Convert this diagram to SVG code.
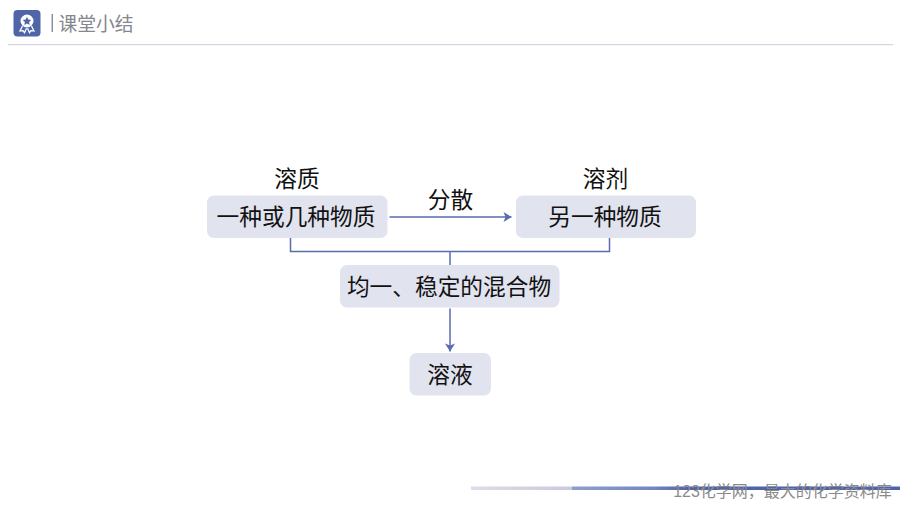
<svg xmlns="http://www.w3.org/2000/svg" width="900" height="506" viewBox="0 0 900 506">
<defs>
<style>
text{font-family:"Liberation Sans","Noto Sans CJK SC",sans-serif;font-size:22.700px;fill:#111;text-anchor:middle}
.box{fill:#e1e3ef}
.c{fill:none;stroke:#5a6cae;stroke-width:1.500}
</style>
<marker id="a" viewBox="0 0 10 10" refX="9" refY="5" markerWidth="10" markerHeight="10" markerUnits="userSpaceOnUse" orient="auto"><path d="M1 0L9 5L1 10L3 5Z" fill="#5a6cae"/></marker>
<linearGradient id="g1"><stop offset="0" stop-color="#dcdde7"/><stop offset="1" stop-color="#c9cbdb"/></linearGradient>
<linearGradient id="g2"><stop offset="0" stop-color="#8f9fcc"/><stop offset="0.25" stop-color="#7486c0"/><stop offset="0.35" stop-color="#5064a8"/><stop offset="1" stop-color="#4f62ab"/></linearGradient>
</defs>
<rect width="900" height="506" fill="#fff"/>
<g id="header">
<rect x="13.500" y="10" width="27" height="26.500" rx="4" fill="#5064a8"/>
<path d="M22.500 26l-2.500 5 3-.3 1.500 2 2-4.500 M31.500 26l2.500 5-3-.3-1.500 2-2-4.500" fill="none" stroke="#fff" stroke-width="1.300"/>
<circle cx="27" cy="21" r="6.500" fill="#fff"/>
<path d="M27 16.800l1.300 2.700 3 .4-2.200 2 .6 3-2.700-1.500-2.700 1.500.6-3-2.200-2 3-.4z" fill="#5064a8"/>
<rect x="51.500" y="14" width="1.500" height="18" fill="#8f9298"/>
<text x="96" y="30.500" style="font-size:18.800px;fill:#85878f">课堂小结</text>
<rect x="8" y="44" width="885" height="1.200" fill="#d3d4e0"/>
</g>
<g id="connectors">
<path class="c" d="M389.500 217H511.500" marker-end="url(#a)"/>
<path class="c" d="M290.500 238V251.500H609.500V238M450 251.500V265"/>
<path class="c" d="M450 308.500V351.500" marker-end="url(#a)"/>
</g>
<g id="solute-label"><text x="297" y="187">溶质</text></g>
<g id="solvent-label"><text x="605.500" y="187">溶剂</text></g>
<g id="disperse-label"><text x="450.500" y="208">分散</text></g>
<g id="solute"><rect class="box" x="207" y="195.500" width="180.500" height="42.500" rx="7"/><text x="296" y="225">一种或几种物质</text></g>
<g id="solvent"><rect class="box" x="516" y="195.500" width="180" height="42.500" rx="7"/><text x="605" y="225">另一种物质</text></g>
<g id="mixture"><rect class="box" x="340" y="265" width="219.500" height="42.500" rx="7"/><text x="449" y="294.500">均一、稳定的混合物</text></g>
<g id="solution"><rect class="box" x="409.500" y="353" width="81.500" height="42.500" rx="7"/><text x="450" y="383">溶液</text></g>
<g id="footer">
<rect x="471" y="486.500" width="101" height="3.500" fill="url(#g1)"/>
<rect x="572" y="486.500" width="328" height="3.500" fill="url(#g2)"/>
<text x="782.500" y="497" style="font-size:16px;fill:#8a8a8a">123化学网，最大的化学资料库</text>
</g>
</svg>
